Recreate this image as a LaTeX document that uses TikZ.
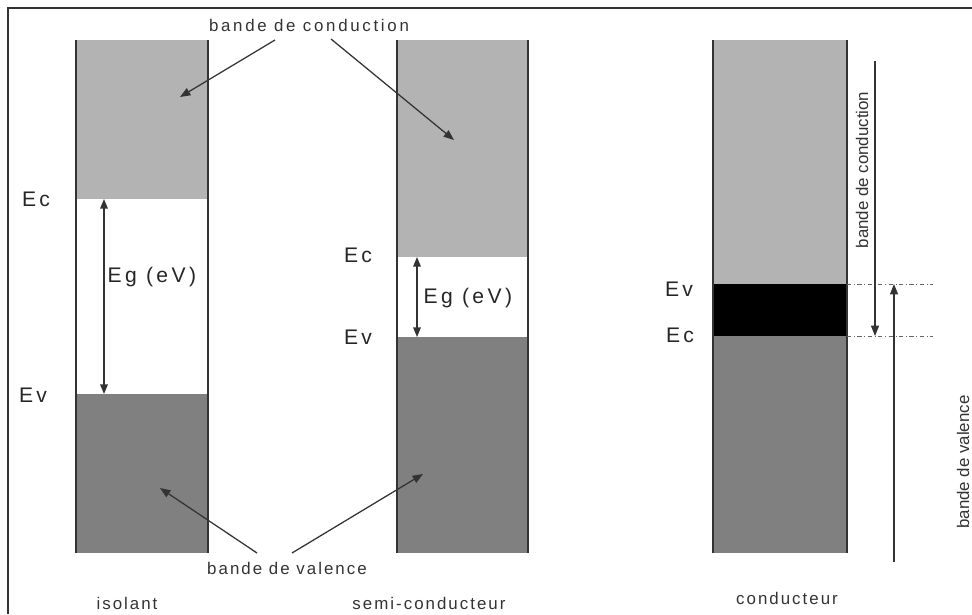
\documentclass[tikz,border=0pt]{standalone}
\usepackage{fontspec}
\setmainfont{Liberation Sans}
\newfontfamily\spcfont[LetterSpace=12]{Liberation Sans}
\newfontfamily\nrjfont[LetterSpace=16]{Liberation Sans}
\usepackage{tikz}
\usetikzlibrary{arrows.meta}
\definecolor{bclair}{HTML}{B3B3B3}
\definecolor{bfonce}{HTML}{808080}
\definecolor{trait}{HTML}{333333}
\tikzset{
  bord/.style={line width=1.5pt,trait},
  arr/.style={-{Triangle[length=2.6mm,width=2mm]},line width=0.9pt,black!80},
  darr/.style={{Triangle[length=2.4mm,width=1.9mm]}-{Triangle[length=2.4mm,width=1.9mm]},line width=0.9pt,black!80},
  lbl/.style={font=\spcfont\fontsize{12}{14}\selectfont,text=black!80,inner sep=1pt},
  nrj/.style={font=\nrjfont\fontsize{15}{17}\selectfont,text=black!85,inner sep=1pt},
  vlbl/.style={font=\fontsize{12}{14}\selectfont,text=black!80,rotate=90,inner sep=1pt},
  niv/.style={dash dot,line width=0.5pt,black!60},
}
\begin{document}
\begin{tikzpicture}[x=0.025cm,y=-0.025cm]
\useasboundingbox (0,0) rectangle (972,614);
% cadre
\draw[bord] (8,614) -- (8,8) -- (972,8);
% bandes
\foreach \a/\b/\c/\v in {76/208/199/394,397/528/257/337,713/847/284/336}{
  \fill[bclair] (\a,40) rectangle (\b,\c);
  \fill[bfonce] (\a,\v) rectangle (\b,553);
  \draw[bord] (\a,40) -- (\a,553);
  \draw[bord] (\b,40) -- (\b,553);}
\fill[black] (714,284) rectangle (846,336);
% isolant
\node[nrj] (ec1) at (36,199) {Ec};
\node[nrj] (ev1) at (33,395) {Ev};
\node[nrj,anchor=west] (eg1) at (106,277) {Eg (eV)};
\coordinate (c1) at (104,199);
\coordinate (v1) at (104,394);
\draw[darr] (c1) -- (v1);
% semi-conducteur
\node[nrj] (ec2) at (358,255) {Ec};
\node[nrj] (ev2) at (358,337) {Ev};
\node[nrj,anchor=west] (eg2) at (422,298) {Eg (eV)};
\coordinate (c2) at (417,257);
\coordinate (v2) at (417,337);
\draw[darr] (c2) -- (v2);
% conducteur
\node[nrj] (ev3) at (679,289) {Ev};
\node[nrj] (ec3) at (680,335) {Ec};
\coordinate (evg) at (847,284);
\coordinate (evd) at (933,284);
\coordinate (ecg) at (847,336);
\coordinate (ecd) at (933,336);
\draw[niv] (evg) -- (evd);
\draw[niv] (ecg) -- (ecd);
\coordinate (bcd) at (875,61);
\coordinate (bcf) at (875,336);
\draw[arr] (bcd) -- (bcf);
\coordinate (bvd) at (894,562);
\coordinate (bvf) at (894,284);
\draw[arr] (bvd) -- (bvf);
\node[vlbl] (bcv) at (862,170) {bande de conduction};
\node[vlbl] (bvv) at (963,462) {bande de valence};
% legendes
\node[lbl,font=\nrjfont\fontsize{12}{14}\selectfont] (bc) at (309,25) {bande de conduction};
\coordinate (bcA) at (275,40);
\coordinate (bcB) at (331,39);
\coordinate (bc1) at (180,97);
\coordinate (bc2) at (454,140);
\draw[arr] (bcA) -- (bc1);
\draw[arr] (bcB) -- (bc2);
\node[lbl] (bv) at (287,568) {bande de valence};
\coordinate (bvA) at (257,553);
\coordinate (bvB) at (292,553);
\coordinate (bv1) at (160,488);
\coordinate (bv2) at (423,474);
\draw[arr] (bvA) -- (bv1);
\draw[arr] (bvB) -- (bv2);
\node[lbl] (iso) at (127,603) {isolant};
\node[lbl] (sc) at (429,603) {semi-conducteur};
\node[lbl] (cond) at (787,598) {conducteur};
\end{tikzpicture}
\end{document}
